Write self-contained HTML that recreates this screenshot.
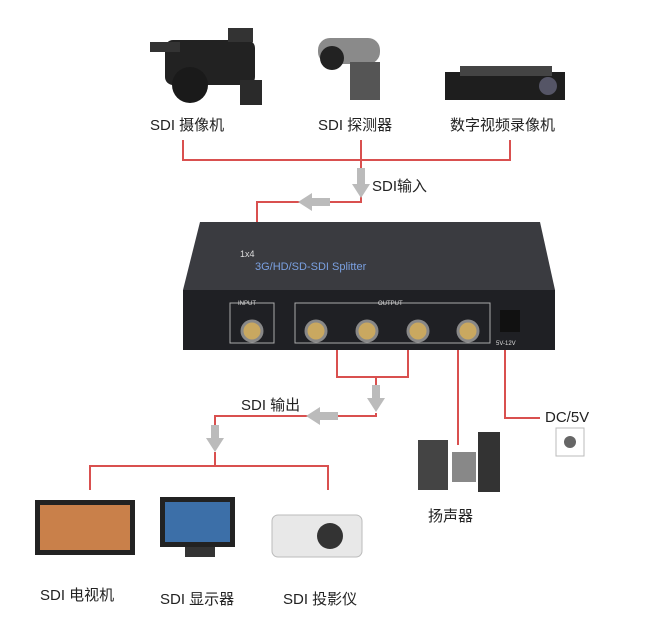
<!DOCTYPE html>
<html><head><meta charset="utf-8"><style>
body{margin:0;background:#fff}
svg text{font-family:"Liberation Sans","Noto Sans CJK SC",sans-serif;fill:#222}
</style></head><body>
<svg width="658" height="619" viewBox="0 0 658 619" xmlns="http://www.w3.org/2000/svg">
<!-- top devices -->
<g>
<rect x="165" y="40" width="90" height="45" rx="8" fill="#222"/>
<rect x="150" y="42" width="30" height="10" fill="#333"/>
<circle cx="190" cy="85" r="18" fill="#1a1a1a"/>
<rect x="228" y="28" width="25" height="14" fill="#333"/>
<rect x="240" y="80" width="22" height="25" fill="#2a2a2a"/>
</g>
<g>
<rect x="318" y="38" width="62" height="26" rx="12" fill="#8a8a8a"/>
<circle cx="332" cy="58" r="12" fill="#222"/>
<rect x="350" y="62" width="30" height="38" fill="#555"/>
</g>
<g>
<rect x="445" y="72" width="120" height="28" fill="#1e1e1e"/>
<rect x="460" y="66" width="92" height="10" fill="#444"/>
<circle cx="548" cy="86" r="9" fill="#556"/>
</g>
<text x="150" y="130" font-size="15">SDI 摄像机</text>
<text x="318" y="130" font-size="15">SDI 探测器</text>
<text x="450" y="130" font-size="15">数字视频录像机</text>
<!-- red lines -->
<g stroke="#d9504f" stroke-width="2" fill="none">
<polyline points="183,140 183,160 510,160 510,140"/>
<line x1="361" y1="140" x2="361" y2="168"/>
<polyline points="361,195 361,202 257,202 257,222"/>
<polyline points="337,350 337,377 408,377 408,350"/>
<polyline points="376,377 376,385"/>
<polyline points="376,413 376,416 215,416 215,425"/>
<polyline points="90,490 90,466 328,466 328,490"/>
<line x1="215" y1="452" x2="215" y2="466"/>
<line x1="458" y1="350" x2="458" y2="445"/>
<polyline points="505,350 505,418 540,418"/>
</g>
<!-- gray arrows -->
<g fill="#bbb">
<rect x="357" y="168" width="8" height="18"/><polygon points="352,184 370,184 361,198"/>
<rect x="310" y="198" width="20" height="8"/><polygon points="312,193 312,211 298,202"/>
<rect x="372" y="385" width="8" height="14"/><polygon points="367,398 385,398 376,412"/>
<rect x="318" y="412" width="20" height="8"/><polygon points="320,407 320,425 306,416"/>
<rect x="211" y="425" width="8" height="14"/><polygon points="206,438 224,438 215,452"/>
</g>
<text x="372" y="191" font-size="15">SDI输入</text>
<text x="241" y="410" font-size="15">SDI 输出</text>
<!-- splitter -->
<polygon points="200,222 540,222 555,290 183,290" fill="#3a3b40"/>
<rect x="183" y="290" width="372" height="60" fill="#1f2024"/>
<text x="255" y="270" font-size="11" fill="#7aa0e0" style="fill:#7aa0e0">3G/HD/SD-SDI Splitter</text>
<text x="240" y="257" font-size="9" style="fill:#ddd">1x4</text>
<rect x="230" y="303" width="44" height="40" fill="none" stroke="#aaa"/>
<rect x="295" y="303" width="195" height="40" fill="none" stroke="#aaa"/>
<text x="238" y="305" font-size="6" style="fill:#ddd">INPUT</text>
<text x="378" y="305" font-size="6" style="fill:#ddd">OUTPUT</text>
<g fill="#c9a860" stroke="#888" stroke-width="3">
<circle cx="252" cy="331" r="10"/><circle cx="316" cy="331" r="10"/><circle cx="367" cy="331" r="10"/><circle cx="418" cy="331" r="10"/><circle cx="468" cy="331" r="10"/>
</g>
<rect x="500" y="310" width="20" height="22" fill="#111"/>
<text x="496" y="345" font-size="6" style="fill:#ddd">5V-12V</text>
<!-- speaker -->
<rect x="418" y="440" width="30" height="50" fill="#444"/>
<rect x="452" y="452" width="24" height="30" fill="#888"/>
<rect x="478" y="432" width="22" height="60" fill="#333"/>
<text x="428" y="521" font-size="15">扬声器</text>
<text x="545" y="422" font-size="15">DC/5V</text>
<rect x="556" y="428" width="28" height="28" fill="#fff" stroke="#bbb"/>
<circle cx="570" cy="442" r="6" fill="#666"/>
<!-- displays -->
<rect x="35" y="500" width="100" height="55" fill="#222"/><rect x="40" y="505" width="90" height="45" fill="#c9804a"/>
<rect x="160" y="497" width="75" height="50" fill="#222"/><rect x="165" y="502" width="65" height="40" fill="#3c6fa8"/><rect x="185" y="547" width="30" height="10" fill="#333"/>
<rect x="272" y="515" width="90" height="42" rx="6" fill="#e8e8e8" stroke="#bbb"/><circle cx="330" cy="536" r="13" fill="#333"/>
<text x="40" y="600" font-size="15">SDI 电视机</text>
<text x="160" y="604" font-size="15">SDI 显示器</text>
<text x="283" y="604" font-size="15">SDI 投影仪</text>
</svg>
</body></html>
